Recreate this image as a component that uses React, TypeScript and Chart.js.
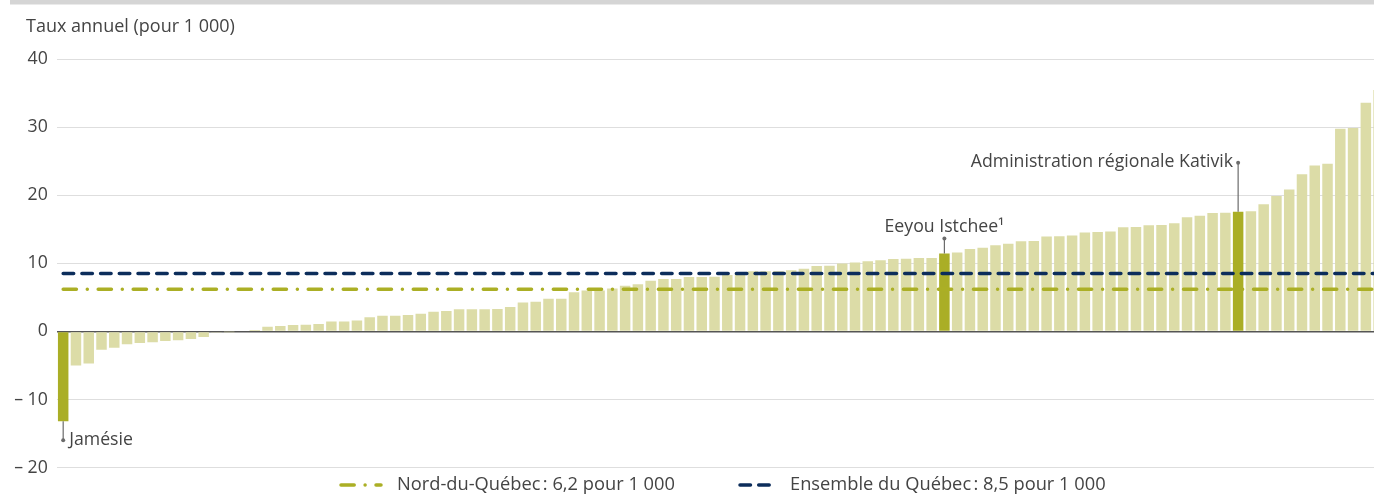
import React, { useEffect, useRef } from "react";
import { Chart, registerables } from "chart.js";

Chart.register(...registerables);

// ---- Data ----
const values: number[] = [
  -13.2, -5.0, -4.7, -2.7, -2.4, -1.9, -1.7, -1.6, -1.4, -1.3,
  -1.1, -0.8, -0.1, -0.05, 0, 0.2, 0.7, 0.8, 0.95, 1.0,
  1.1, 1.45, 1.45, 1.6, 2.1, 2.3, 2.3, 2.4, 2.6, 2.9,
  3.0, 3.25, 3.25, 3.25, 3.3, 3.6, 4.25, 4.35, 4.8, 4.8,
  5.75, 6.0, 6.0, 6.3, 6.7, 6.95, 7.45, 7.7, 7.7, 8.0,
  8.0, 8.05, 8.3, 8.5, 8.85, 8.85, 8.85, 9.0, 9.2, 9.6,
  9.65, 10.0, 10.15, 10.3, 10.45, 10.65, 10.7, 10.8, 10.8, 11.45,
  11.6, 12.1, 12.3, 12.65, 12.9, 13.25, 13.3, 13.95, 14.0, 14.1,
  14.55, 14.6, 14.7, 15.3, 15.35, 15.6, 15.65, 15.9, 16.8, 17.0,
  17.4, 17.45, 17.6, 17.65, 18.7, 19.9, 20.85, 23.1, 24.4, 24.65,
  29.8, 29.9, 33.6, 35.5,
];

const namedCategories: Record<number, string> = {
  0: "Jamésie",
  69: "Eeyou Istchee",
  92: "Administration régionale Kativik",
};
const categories: string[] = values.map((_, i) => namedCategories[i] ?? `Territoire ${i + 1}`);
const highlightedCategories: string[] = ["Jamésie", "Eeyou Istchee", "Administration régionale Kativik"];

const nordDuQuebecRate = 6.2;
const ensembleQuebecRate = 8.5;

const yMin = -20;
const yMax = 40;
const yStep = 10;

const yAxisTitle = "Taux annuel (pour 1 000)";
const legendLabels: string[] = [
  "Nord-du-Québec\u202F: 6,2 pour 1 000",
  "Ensemble du Québec\u202F: 8,5 pour 1 000",
];

// ---- Styles ----
const FONT = "'Open Sans', 'Noto Sans', sans-serif";
const FS = 17.7;
const TEXT = "#444444";
const LIGHT_BAR = "#dcdca7";
const DARK_BAR = "#aaae26";
const OLIVE_LINE = "#abaf25";
const NAVY_LINE = "#0c2d5b";
const NAVY_DASH = [10.5, 8.2];
const OLIVE_DASH = [13.2, 10.9, 0.01, 10.9];

export default function App() {
  const ref = useRef<HTMLCanvasElement | null>(null);

  useEffect(() => {
    if (!ref.current) return;

    const decorPlugin = {
      id: "decor",
      beforeDraw(chart: any) {
        const ctx = chart.ctx;
        ctx.save();
        ctx.fillStyle = "#d5d5d5";
        ctx.fillRect(10, 0, chart.width, 4.5);
        ctx.fillStyle = TEXT;
        ctx.font = `18px ${FONT}`;
        ctx.textBaseline = "middle";
        ctx.textAlign = "left";
        ctx.fillText(yAxisTitle, 26, 27);
        ctx.restore();
      },
      afterDatasetsDraw(chart: any) {
        const ctx = chart.ctx;
        const barIndex = chart.data.datasets.findIndex((d: any) => d.type === "bar");
        const meta = chart.getDatasetMeta(barIndex);
        ctx.save();
        ctx.strokeStyle = "#6b6b6b";
        ctx.lineWidth = 1.2;
        const dot = (x: number, y: number) => {
          ctx.fillStyle = "#6b6b6b";
          ctx.beginPath();
          ctx.arc(x, y, 2, 0, Math.PI * 2);
          ctx.fill();
        };
        const line = (x: number, y1: number, y2: number) => {
          ctx.beginPath();
          ctx.moveTo(x, y1);
          ctx.lineTo(x, y2);
          ctx.stroke();
        };
        ctx.font = `${FS}px ${FONT}`;
        ctx.textBaseline = "middle";
        // Jamésie (below)
        const bJ = meta.data[categories.indexOf("Jamésie")];
        line(bJ.x, bJ.y, bJ.y + 19);
        dot(bJ.x, bJ.y + 19);
        ctx.fillStyle = TEXT;
        ctx.textAlign = "left";
        ctx.fillText("Jamésie", bJ.x + 6, bJ.y + 19);
        // Eeyou Istchee (above, centered)
        const bE = meta.data[categories.indexOf("Eeyou Istchee")];
        line(bE.x, bE.y, bE.y - 15);
        dot(bE.x, bE.y - 15);
        ctx.fillStyle = TEXT;
        ctx.textAlign = "center";
        ctx.fillText("Eeyou Istchee¹", bE.x, bE.y - 27);
        // Kativik (above, to the left)
        const bK = meta.data[categories.indexOf("Administration régionale Kativik")];
        line(bK.x, bK.y, bK.y - 49);
        dot(bK.x, bK.y - 49);
        ctx.fillStyle = TEXT;
        ctx.textAlign = "right";
        ctx.fillText("Administration régionale Kativik", bK.x - 5, bK.y - 50);
        ctx.restore();
      },
      afterDraw(chart: any) {
        const ctx = chart.ctx;
        ctx.save();
        const y = 485;
        const items = [
          { x0: 341, x1: 381, tx: 397, color: OLIVE_LINE, dash: OLIVE_DASH, label: legendLabels[0] },
          { x0: 740, x1: 775, tx: 790, color: NAVY_LINE, dash: NAVY_DASH, label: legendLabels[1] },
        ];
        for (const it of items) {
          ctx.strokeStyle = it.color;
          ctx.lineWidth = 3.5;
          ctx.lineCap = "round";
          ctx.setLineDash(it.dash);
          ctx.beginPath();
          ctx.moveTo(it.x0, y);
          ctx.lineTo(it.x1, y);
          ctx.stroke();
          ctx.setLineDash([]);
          ctx.fillStyle = TEXT;
          ctx.font = `18.3px ${FONT}`;
          ctx.textBaseline = "middle";
          ctx.textAlign = "left";
          ctx.fillText(it.label, it.tx, y);
        }
        ctx.restore();
      },
    };

    const chart = new Chart(ref.current, {
      type: "bar",
      data: {
        labels: categories,
        datasets: [
          {
            type: "line",
            label: legendLabels[1],
            data: categories.map(() => ensembleQuebecRate),
            borderColor: NAVY_LINE,
            borderWidth: 3.5,
            borderDash: NAVY_DASH,
            borderCapStyle: "round",
            pointRadius: 0,
            fill: false,
            order: 0,
          } as any,
          {
            type: "line",
            label: legendLabels[0],
            data: categories.map(() => nordDuQuebecRate),
            borderColor: OLIVE_LINE,
            borderWidth: 3.5,
            borderDash: OLIVE_DASH,
            borderCapStyle: "round",
            pointRadius: 0,
            fill: false,
            order: 0,
          } as any,
          {
            type: "bar",
            label: "Taux annuel",
            data: values,
            backgroundColor: categories.map((c) =>
              highlightedCategories.includes(c) ? DARK_BAR : LIGHT_BAR
            ),
            borderWidth: 0,
            categoryPercentage: 1,
            barPercentage: 0.822,
            order: 1,
          } as any,
        ],
      },
      options: {
        animation: false,
        responsive: false,
        maintainAspectRatio: false,
        events: [],
        layout: { padding: { top: 59.3, bottom: 27.5, left: 0, right: 0 } },
        plugins: {
          legend: { display: false },
          tooltip: { enabled: false },
          title: { display: false },
        },
        scales: {
          x: { display: false, offset: true },
          y: {
            min: yMin,
            max: yMax,
            border: { display: false },
            grid: {
              drawTicks: false,
              color: (c: any) => (c.tick && c.tick.value === 0 ? "#555555" : "#dedede"),
              lineWidth: (c: any) => (c.tick && c.tick.value === 0 ? 1.6 : 1),
            },
            ticks: {
              stepSize: yStep,
              padding: 9,
              color: TEXT,
              font: { family: FONT, size: FS },
              callback: (v: any) => (Number(v) < 0 ? `\u2013 ${Math.abs(Number(v))}` : String(v)),
            },
            afterFit: (scale: any) => {
              scale.width = 56.8;
            },
          },
        },
      } as any,
      plugins: [decorPlugin],
    });

    return () => chart.destroy();
  }, []);

  return (
    <div
      style={{
        position: "fixed",
        left: 0,
        top: 0,
        width: 1374,
        height: 495,
        overflow: "hidden",
        background: "#ffffff",
      }}
    >
      <canvas ref={ref} width={1385} height={495} style={{ display: "block" }} />
    </div>
  );
}
